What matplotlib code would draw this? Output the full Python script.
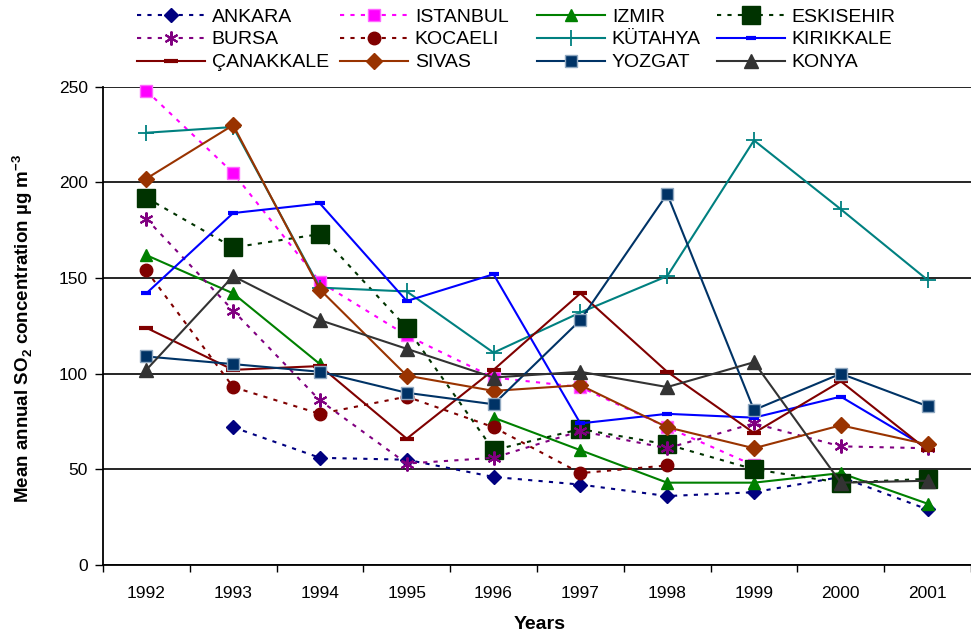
import numpy as np
import matplotlib
matplotlib.use("Agg")
import matplotlib.pyplot as plt

plt.rcParams['font.family'] = ['Liberation Sans', 'DejaVu Sans']
plt.rcParams['mathtext.fontset'] = 'custom'
plt.rcParams['mathtext.rm'] = 'Liberation Sans'
plt.rcParams['mathtext.bf'] = 'Liberation Sans:bold'

nan = np.nan
years = ["1992", "1993", "1994", "1995", "1996", "1997", "1998", "1999", "2000", "2001"]

ankara = [nan, 72, 56, 55, 46, 42, 36, 38, 46, 29]
istanbul = [248, 205, 148, 120, 98, 93, 72, 52, nan, nan]
izmir = [162, 142, 105, nan, 77, 60, 43, 43, 48, 32]
eskisehir = [192, 166, 173, 124, 60, 71, 63, 50, 43, 45]
bursa = [181, 133, 86, 53, 56, 70, 61, 74, 62, 61]
kocaeli = [154, 93, 79, 88, 72, 48, 52, nan, nan, nan]
kutahya = [226, 229, 145, 143, 111, 132, 151, 222, 186, 149]
kirikkale = [142, 184, 189, 138, 152, 74, 79, 77, 88, 61]
canakkale = [124, 102, 104, 66, 102, 142, 101, 69, 96, 60]
sivas = [202, 230, 144, 99, 91, 94, 72, 61, 73, 63]
yozgat = [109, 105, 101, 90, 84, 128, 194, 81, 100, 83]
konya = [102, 151, 128, 113, 98, 101, 93, 106, 43, 44]

dot = (0, (2, 3))
series = [
    ("ANKARA", ankara, "#000080", dot, dict(marker="D", ms=7, mfc="#000080", mec="#000080")),
    ("ISTANBUL", istanbul, "#FF00FF", dot, dict(marker="s", ms=8, mfc="#FF00FF", mec="#FF66FF")),
    ("IZMIR", izmir, "#008000", "-", dict(marker="^", ms=9, mfc="#008000", mec="#008000")),
    ("ESKISEHIR", eskisehir, "#003300", dot, dict(marker="s", ms=13, mfc="#003300", mec="#003300")),
    ("BURSA", bursa, "#800080", dot, dict(marker=(6, 2, 0), ms=10, mfc="#800080", mec="#800080", mew=1.5)),
    ("KOCAELI", kocaeli, "#800000", dot, dict(marker="o", ms=9, mfc="#800000", mec="#800000")),
    ("KÜTAHYA", kutahya, "#008080", "-", dict(marker="+", ms=12, mec="#008080", mew=1.3)),
    ("KIRIKKALE", kirikkale, "#0000FF", "-", dict(marker="_", ms=7, mec="#0000FF", mew=3)),
    ("ÇANAKKALE", canakkale, "#800000", "-", dict(marker="_", ms=10, mec="#800000", mew=3)),
    ("SIVAS", sivas, "#993300", "-", dict(marker="D", ms=8, mfc="#993300", mec="#993300")),
    ("YOZGAT", yozgat, "#003366", "-", dict(marker="s", ms=8.5, mfc="#003366", mec="#8fa8c0", mew=1)),
    ("KONYA", konya, "#333333", "-", dict(marker="^", ms=10, mfc="#333333", mec="#333333")),
]

fig = plt.figure(figsize=(9.71, 6.34), dpi=100)
ax = fig.add_axes([0.106, 0.109, 0.894, 0.754])

x = np.arange(len(years))
handles = {}
for name, vals, color, ls, mk in series:
    h, = ax.plot(x, vals, color=color, linestyle=ls, lw=1.5, label=name, clip_on=False, **mk)
    handles[name] = h

ax.set_ylim(0, 250)
ax.set_xlim(-0.5, 9.36)
ax.set_yticks(np.arange(0, 251, 50))
ax.yaxis.grid(True, color="black", lw=1.2)
ax.set_axisbelow(True)

ax.set_xticks(np.arange(-0.5, 10, 1))
ax.set_xticklabels([])
ax.set_xticks(x, minor=True)
ax.set_xticklabels(years, minor=True)
ax.tick_params(axis="x", which="minor", length=0, pad=15, labelsize=12.5)
ax.tick_params(axis="x", which="major", length=5, direction="out", width=1)
ax.tick_params(axis="y", length=6, direction="out", width=1, labelsize=12.5, pad=5)

for s in ["top", "right"]:
    ax.spines[s].set_visible(False)
ax.spines["left"].set_linewidth(1.3)
ax.spines["bottom"].set_linewidth(1.3)

ax.set_xlabel("Years", fontsize=14, fontweight="bold")
ax.set_ylabel(r"Mean annual SO$_\mathbf{2}$ concentration µg m$^\mathbf{-3}$",
              fontsize=13.5, fontweight="bold")
ax.xaxis.set_label_coords(0.503, -0.106)
ax.yaxis.set_label_coords(-0.078, 0.495)

# legend, one column at a time so the columns sit where they do in the original
columns = [["ANKARA", "BURSA", "ÇANAKKALE"],
           ["ISTANBUL", "KOCAELI", "SIVAS"],
           ["IZMIR", "KÜTAHYA", "YOZGAT"],
           ["ESKISEHIR", "KIRIKKALE", "KONYA"]]
col_x = [137, 340, 537, 717]
for names, cx in zip(columns, col_x):
    fig.legend([handles[n] for n in names], names, frameon=False,
               loc="upper left", bbox_to_anchor=(cx / 971, 1 - 8 / 634), fontsize=14,
               handlelength=3.5, labelspacing=0.27, handletextpad=0.35,
               borderpad=0, borderaxespad=0)

fig.savefig("out.png", dpi=100)
